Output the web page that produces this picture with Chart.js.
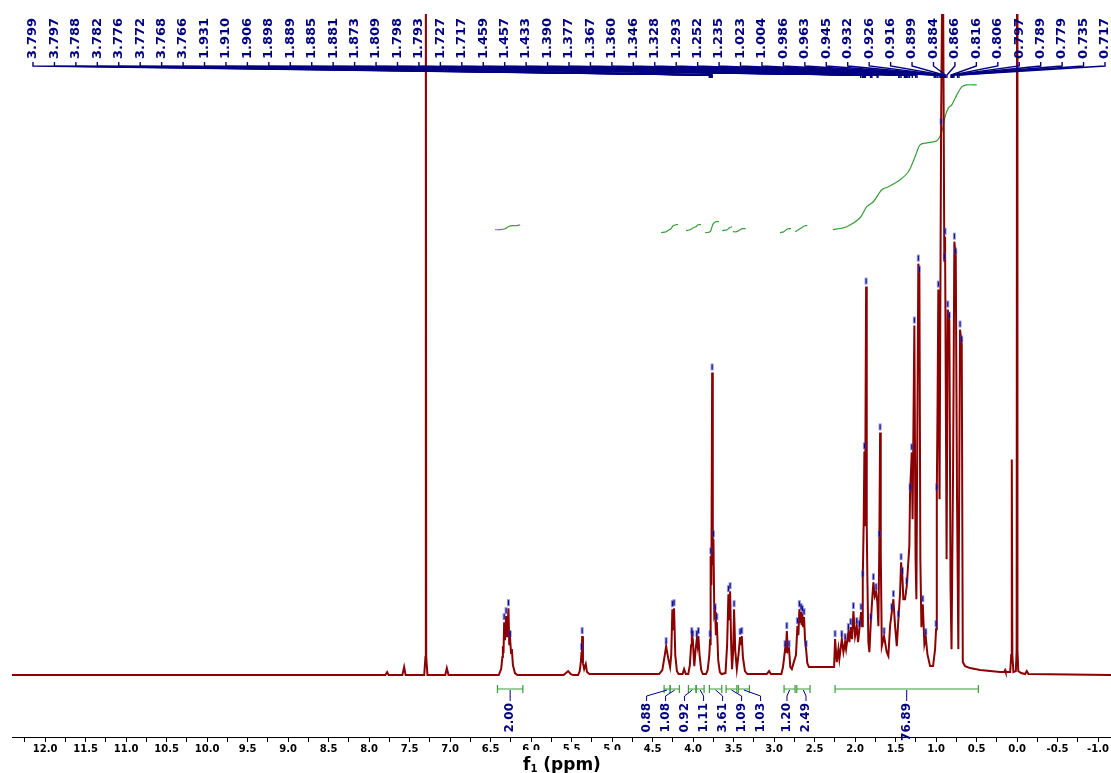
<!DOCTYPE html>
<html>
<head>
<meta charset="utf-8">
<script src="https://cdn.jsdelivr.net/npm/chart.js@4/dist/chart.umd.min.js"></script>
<style>
  html, body { margin: 0; padding: 0; background: #fff; }
  #wrap { width: 1111px; height: 773px; }
</style>
</head>
<body>
<div id="wrap"><canvas id="nmr" width="1111" height="773"></canvas></div>
<script>
// 1H spectrum: chemical shift (ppm) and intensity (a.u.)
const shift = [
  12.50, 7.80, 7.778, 7.76, 7.59, 7.568, 7.55, 7.32, 7.305, 7.30, 7.295, 7.28, 7.06, 7.041, 7.02,
  6.40, 6.37, 6.355, 6.349, 6.341, 6.333, 6.322, 6.309, 6.295, 6.280, 6.270, 6.259, 6.248, 6.238, 6.225, 6.20, 6.17,
  5.60, 5.57, 5.543, 5.51, 5.48, 5.42, 5.40, 5.385, 5.378, 5.374, 5.370, 5.360, 5.345, 5.325, 5.31, 5.28,
  4.42, 4.38, 4.35, 4.333, 4.31, 4.284, 4.27, 4.256, 4.245, 4.235, 4.22, 4.20, 4.18, 4.13, 4.111, 4.09,
  4.06, 4.04, 4.025, 4.016, 4.004, 3.99, 3.985, 3.97, 3.954, 3.945, 3.935, 3.92, 3.90, 3.88,
  3.84, 3.82, 3.80, 3.790, 3.786, 3.781, 3.774, 3.765, 3.757, 3.749, 3.738, 3.728, 3.718, 3.707, 3.69, 3.67, 3.65,
  3.60, 3.58, 3.564, 3.553, 3.543, 3.53, 3.519, 3.505, 3.494, 3.48, 3.460, 3.44, 3.420, 3.410, 3.399, 3.385, 3.36, 3.33,
  3.09, 3.062, 3.04, 2.91, 2.89, 2.864, 2.855, 2.843, 2.830, 2.815, 2.80, 2.781,
  2.76, 2.73, 2.712, 2.70, 2.688, 2.678, 2.667, 2.659, 2.651, 2.641, 2.630, 2.618, 2.605, 2.59, 2.57,
  2.30, 2.259, 2.247, 2.226, 2.206, 2.194, 2.164, 2.144, 2.123, 2.111, 2.083, 2.070, 2.053, 2.037, 2.021, 2.000,
  1.979, 1.963, 1.947, 1.926, 1.914, 1.905, 1.893, 1.885, 1.877, 1.873, 1.864, 1.856, 1.848, 1.836, 1.823,
  1.806, 1.786, 1.774, 1.757, 1.741, 1.725, 1.712, 1.700, 1.691, 1.683, 1.670, 1.642, 1.609, 1.589,
  1.568, 1.547, 1.527, 1.506, 1.485, 1.465, 1.444, 1.432, 1.416, 1.404, 1.383, 1.362, 1.346, 1.330,
  1.321, 1.300, 1.290, 1.268, 1.253, 1.243, 1.219, 1.206, 1.194, 1.181, 1.164, 1.144, 1.127, 1.107, 1.074, 1.037,
  1.012, 1.000, 0.991, 0.981, 0.972, 0.957, 0.938, 0.917, 0.898, 0.889, 0.870, 0.856, 0.836, 0.821, 0.809,
  0.790, 0.774, 0.757, 0.741, 0.725, 0.704, 0.683, 0.670, 0.642, 0.580, 0.457, 0.210,
  0.16, 0.148, 0.14, 0.085, 0.072, 0.065, 0.058, 0.045, 0.015, 0.005, 0.000, -0.005, -0.015,
  -0.05, -0.10, -0.12, -0.14, -1.20
];
const intensity = [
  0, 0, 3, 0, 0, 8, 0, 0, 18, 760, 18, 0, 0, 7, 0,
  0, 6, 18, 29, 22, 53, 35, 59, 38, 67, 30, 36, 22, 26, 10, 2, 0,
  0, 2, 4, 1, 0, 0, 4, 14, 23, 18, 39, 12, 6, 11, 3, 1,
  1, 5, 20, 29, 18, 8, 20, 66, 45, 67, 20, 4, 1, 1, 6, 1,
  1, 10, 30, 39, 36, 15, 9, 25, 36, 30, 39, 20, 5, 1,
  1, 5, 20, 36, 30, 119, 90, 303, 110, 136, 60, 63, 40, 53, 15, 3, 1,
  2, 30, 81, 55, 84, 30, 6, 25, 66, 25, 6, 20, 38, 30, 39, 18, 4, 1,
  1, 4, 1, 1, 8, 26, 22, 44, 24, 26, 8, 6,
  12, 20, 49, 40, 66, 52, 63, 50, 61, 48, 58, 35, 26, 12, 8,
  8, 8, 36, 13, 26, 16, 36, 23, 33, 26, 43, 33, 48, 36, 64, 39,
  49, 33, 46, 63, 49, 96, 156, 224, 150, 216, 389, 149, 96, 33, 23,
  53, 79, 93, 79, 83, 73, 49, 136, 243, 123, 29, 39, 23, 19,
  49, 63, 76, 49, 29, 56, 83, 113, 99, 76, 76, 89, 109, 129,
  183, 223, 156, 350, 116, 76, 412, 401, 116, 48, 71, 31, 38, 21, 9, 9,
  26, 46, 183, 276, 386, 176, 549, 760, 414, 439, 116, 366, 355, 86, 26,
  206, 434, 419, 176, 26, 346, 331, 13, 9, 7, 5, 3,
  3, 5, 3, 3, 20, 216, 20, 3, 4, 25, 760, 25, 4,
  2, 1, 4, 1, 0
];

// integral curves (null = gap between regions)
const intCurveShift = [
  6.444, 6.383, 6.321, 6.284, 6.235, 6.185, 6.136, 6.13,
  4.395, 4.333, 4.296, 4.272, 4.247, 4.210, 4.185, 4.18,
  4.086, 4.037, 4.000, 3.963, 3.938, 3.901, 3.89,
  3.850, 3.790, 3.770, 3.750, 3.720, 3.680, 3.67,
  3.640, 3.580, 3.550, 3.520, 3.515,
  3.510, 3.460, 3.420, 3.390, 3.350, 3.34,
  2.926, 2.880, 2.850, 2.820, 2.790, 2.78,
  2.740, 2.700, 2.660, 2.620, 2.590, 2.58,
  2.275, 2.102, 1.938, 1.856, 1.774, 1.670, 1.589, 1.444, 1.342, 1.259, 1.198, 1.115,
  0.991, 0.930, 0.889, 0.848, 0.806, 0.744, 0.683, 0.621, 0.498
];
const intCurveValue = [
  446, 446, 447, 449, 450, 450, 451, null,
  443, 444, 446, 447, 450, 451, 451, null,
  445, 446, 448, 449, 451, 451, null,
  443, 444, 448, 452, 454, 454, null,
  445, 446, 448, 449, null,
  444, 444, 446, 447, 447, null,
  443, 444, 446, 447, 447, null,
  444, 446, 448, 450, 450, null,
  446, 449, 458, 469, 474, 486, 489, 496, 504, 519, 531, 533,
  535, 544, 559, 568, 571, 581, 589, 591, 591
];

// integration ranges and values
const intFrom = [6.416, 4.358, 4.284, 4.058, 3.963, 3.799, 3.593, 3.441, 2.877, 2.720, 2.247];
const intTo   = [6.102, 4.284, 4.169, 3.963, 3.864, 3.646, 3.460, 3.305, 2.741, 2.556, 0.478];
const intText = ["2.00", "0.88", "1.08", "0.92", "1.11", "3.61", "1.09", "1.03", "1.20", "2.49", "76.89"];

// peak list printed on top
const peakLabels = [
  "3.799", "3.797", "3.788", "3.782", "3.776", "3.772", "3.768", "3.766",
  "1.931", "1.910", "1.906", "1.898", "1.889", "1.885", "1.881", "1.873",
  "1.809", "1.798", "1.793", "1.727", "1.717", "1.459", "1.457", "1.433",
  "1.390", "1.377", "1.367", "1.360", "1.346", "1.328", "1.293", "1.252",
  "1.235", "1.023", "1.004", "0.986", "0.963", "0.945", "0.932", "0.926",
  "0.916", "0.899", "0.884", "0.866", "0.816", "0.806", "0.797", "0.789",
  "0.779", "0.735", "0.717"
];

// picked peak tops (ppm, intensity)
const pickShift = [
  6.333, 6.309, 6.280, 6.259, 5.378, 5.370, 4.333, 4.256, 4.235, 4.016, 4.004, 3.954, 3.935,
  3.790, 3.781, 3.765, 3.749, 3.728, 3.707, 3.564, 3.543, 3.494, 3.420, 3.399,
  2.864, 2.843, 2.815, 2.712, 2.688, 2.667, 2.651, 2.630, 2.605,
  2.247, 2.164, 2.123, 2.083, 2.053, 2.021, 1.979, 1.947, 1.926, 1.905, 1.885, 1.864,
  1.806, 1.774, 1.741, 1.700, 1.691, 1.642, 1.547, 1.527, 1.465, 1.432, 1.416, 1.362,
  1.321, 1.300, 1.268, 1.219, 1.206, 1.164, 1.127, 1.000, 0.991, 0.972, 0.938,
  0.898, 0.889, 0.856, 0.836, 0.774, 0.757, 0.704, 0.683
];
const pickValue = [
  53, 59, 67, 36, 23, 39, 29, 66, 67, 39, 36, 36, 39,
  36, 119, 303, 136, 63, 53, 81, 84, 66, 38, 39,
  26, 44, 26, 49, 66, 63, 61, 58, 26,
  36, 36, 33, 43, 48, 64, 49, 46, 63, 96, 224, 389,
  53, 93, 83, 136, 243, 39, 63, 76, 56, 113, 99, 89,
  183, 223, 350, 412, 401, 71, 38, 46, 183, 386, 549,
  414, 439, 366, 355, 434, 419, 346, 331
];

const navy = "#000080";
const red = "#8b0000";
const green = "#3a9d3a";

const decorations = {
  id: "decorations",
  afterDatasetsDraw(chart) {
    const ctx = chart.ctx;
    const x = chart.scales.x;
    const y = chart.scales.y;

    // peak pick marks
    ctx.save();
    ctx.strokeStyle = "rgba(60,60,200,0.55)";
    ctx.lineWidth = 3;
    pickShift.forEach((s, i) => {
      const px = x.getPixelForValue(s);
      const py = y.getPixelForValue(pickValue[i]);
      if (py < 20) return;
      ctx.beginPath();
      ctx.moveTo(px, py - 9);
      ctx.lineTo(px, py - 2);
      ctx.stroke();
    });
    ctx.strokeStyle = navy;
    ctx.lineWidth = 1;
    pickShift.forEach((s, i) => {
      const px = x.getPixelForValue(s);
      const py = y.getPixelForValue(pickValue[i]);
      if (py < 20) return;
      ctx.beginPath();
      ctx.moveTo(px, py - 8);
      ctx.lineTo(px, py - 3);
      ctx.stroke();
    });
    ctx.restore();

    // peak list on top
    ctx.save();
    ctx.fillStyle = navy;
    ctx.strokeStyle = navy;
    ctx.lineWidth = 1.4;
    ctx.font = 'bold 13px "DejaVu Sans"';
    const n = peakLabels.length;
    peakLabels.forEach((t, i) => {
      const lx = 33 + i * (1105 - 33) / (n - 1);
      const px = x.getPixelForValue(parseFloat(t));
      ctx.save();
      ctx.translate(lx, 59);
      ctx.rotate(-Math.PI / 2);
      ctx.textAlign = "left";
      ctx.textBaseline = "middle";
      ctx.fillText(t, 0, 0);
      ctx.restore();
      ctx.beginPath();
      ctx.moveTo(lx, 62);
      ctx.lineTo(lx, 66);
      ctx.lineTo(px, 75);
      ctx.lineTo(px, 78);
      ctx.stroke();
    });
    ctx.restore();

    // integration brackets
    ctx.save();
    ctx.strokeStyle = green;
    ctx.lineWidth = 1.2;
    const centers = [];
    intFrom.forEach((a, i) => {
      const x1 = x.getPixelForValue(a);
      const x2 = x.getPixelForValue(intTo[i]);
      centers.push((x1 + x2) / 2);
      ctx.beginPath();
      ctx.moveTo(x1, 689); ctx.lineTo(x2, 689);
      ctx.moveTo(x1, 685); ctx.lineTo(x1, 693);
      ctx.moveTo(x2, 685); ctx.lineTo(x2, 693);
      ctx.stroke();
    });
    ctx.restore();

    // spread the integral labels so they do not overlap
    const gap = 19;
    let groups = centers.map((c, i) => ({ ids: [i], mean: c }));
    let merged = true;
    while (merged) {
      merged = false;
      for (let k = 0; k < groups.length - 1; k++) {
        const g1 = groups[k], g2 = groups[k + 1];
        const end1 = g1.mean + (g1.ids.length - 1) * gap / 2;
        const start2 = g2.mean - (g2.ids.length - 1) * gap / 2;
        if (start2 - end1 < gap) {
          const ids = g1.ids.concat(g2.ids);
          const mean = ids.reduce((s, j) => s + centers[j], 0) / ids.length;
          groups.splice(k, 2, { ids, mean });
          merged = true;
          break;
        }
      }
    }
    const labelX = [];
    groups.forEach(g => {
      g.ids.forEach((id, k) => {
        labelX[id] = g.mean + (k - (g.ids.length - 1) / 2) * gap;
      });
    });

    ctx.save();
    ctx.strokeStyle = navy;
    ctx.fillStyle = navy;
    ctx.lineWidth = 1;
    ctx.font = 'bold 12px "DejaVu Sans"';
    intText.forEach((t, i) => {
      const cx = centers[i], lx = labelX[i];
      ctx.beginPath();
      ctx.moveTo(cx, 690);
      ctx.lineTo(lx, 696);
      ctx.lineTo(lx, 701);
      ctx.stroke();
      ctx.save();
      ctx.translate(lx, 703);
      ctx.rotate(-Math.PI / 2);
      ctx.textAlign = "right";
      ctx.textBaseline = "middle";
      ctx.fillText(t, 0, 0);
      ctx.restore();
    });
    ctx.restore();

    // axis title (its box hides the lower half of the nearby tick labels)
    ctx.save();
    ctx.fillStyle = "#fff";
    ctx.fillRect(518, 750, 108, 23);
    ctx.fillStyle = "#000";
    ctx.textBaseline = "alphabetic";
    ctx.textAlign = "left";
    ctx.font = 'bold 17px "DejaVu Sans"';
    let tx = 523;
    ctx.fillText("f", tx, 770);
    tx += ctx.measureText("f").width;
    ctx.font = 'bold 10px "DejaVu Sans"';
    ctx.fillText("1", tx, 772);
    tx += ctx.measureText("1").width;
    ctx.font = 'bold 17px "DejaVu Sans"';
    ctx.fillText(" (ppm)", tx, 770);
    ctx.restore();
  }
};

const ctx = document.getElementById("nmr").getContext("2d");
const chart = new Chart(ctx, {
  type: "line",
  data: {
    datasets: [
      {
        label: "spectrum",
        data: shift.map((s, i) => ({ x: s, y: intensity[i] })),
        borderColor: red,
        borderWidth: 2,
        pointRadius: 0,
        tension: 0,
        fill: false,
      },
      {
        label: "integral",
        data: intCurveShift.map((s, i) => ({ x: s, y: intCurveValue[i] })),
        borderColor: green,
        borderWidth: 1.2,
        pointRadius: 0,
        tension: 0.3,
        spanGaps: false,
        fill: false,
      },
    ],
  },
  options: {
    responsive: false,
    animation: false,
    devicePixelRatio: 1,
    layout: { padding: { top: 14, left: 12, right: 0, bottom: 17 } },
    plugins: { legend: { display: false }, tooltip: { enabled: false } },
    scales: {
      x: {
        type: "linear",
        reverse: true,
        min: -1.16,
        max: 12.41,
        border: { display: true, color: "#000", width: 1 },
        grid: { drawOnChartArea: false, drawTicks: true, tickLength: 5, color: "#000" },
        ticks: {
          stepSize: 0.25,
          includeBounds: false,
          autoSkip: false,
          maxRotation: 0,
          padding: 1,
          color: "#000",
          font: { family: '"DejaVu Sans"', weight: "bold", size: 10, lineHeight: 1.2 },
          callback: (v) => (Math.abs(v * 2 - Math.round(v * 2)) < 1e-6 ? v.toFixed(1) : ""),
        },
      },
      y: {
        display: false,
        min: -62,
        max: 662,
      },
    },
  },
  plugins: [decorations],
});
</script>
</body>
</html>
